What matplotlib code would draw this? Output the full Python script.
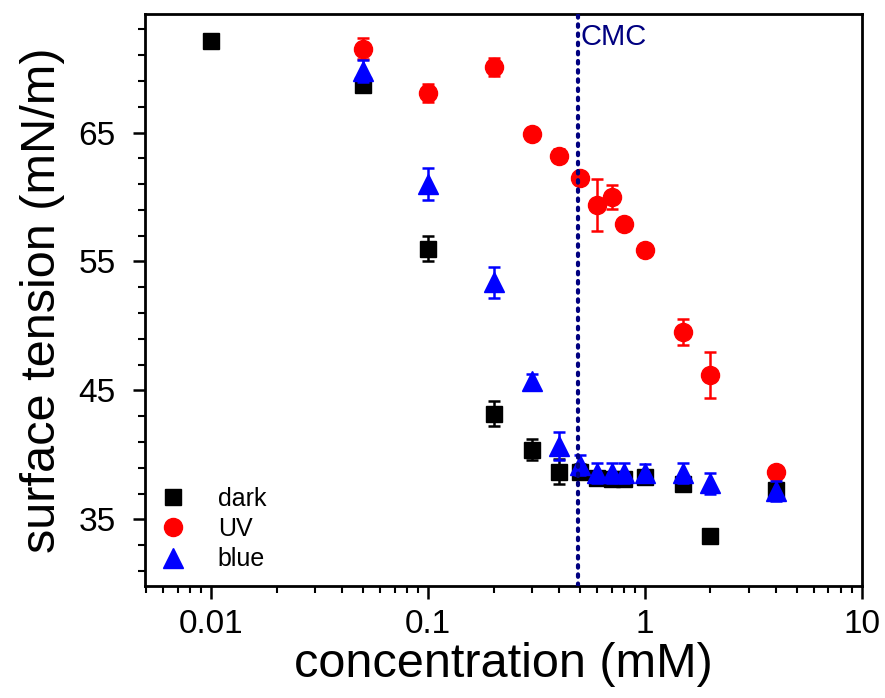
import matplotlib
matplotlib.use("Agg")
import matplotlib.pyplot as plt
import matplotlib.ticker as mticker
from matplotlib import font_manager as fm
import numpy as np

# ---- data ----
conc_dark = [0.01, 0.05, 0.1, 0.2, 0.3, 0.4, 0.5, 0.6, 0.7, 0.8, 1.0, 1.5, 2.0, 4.0]
st_dark = [72.1, 68.7, 56.0, 43.2, 40.4, 38.7, 38.7, 38.2, 38.1, 38.1, 38.3, 37.7, 33.7, 37.3]
err_dark = [0.3, 0.5, 1.0, 1.0, 0.8, 1.0, 0.6, 0.5, 0.5, 0.5, 0.5, 0.4, 0.3, 0.5]

conc_uv = [0.05, 0.1, 0.2, 0.3, 0.4, 0.5, 0.6, 0.7, 0.8, 1.0, 1.5, 2.0, 4.0]
st_uv = [71.5, 68.1, 70.1, 64.9, 63.2, 61.5, 59.4, 60.0, 57.9, 55.9, 49.5, 46.2, 38.7]
err_uv = [0.8, 0.7, 0.7, 0.3, 0.5, 0.4, 2.0, 0.9, 0.3, 0.3, 1.0, 1.8, 0.3]

conc_blue = [0.05, 0.1, 0.2, 0.3, 0.4, 0.5, 0.6, 0.7, 0.8, 1.0, 1.5, 2.0, 4.0]
st_blue = [69.8, 61.0, 53.4, 45.7, 40.7, 39.2, 38.6, 38.6, 38.6, 38.6, 38.6, 37.8, 37.2]
err_blue = [0.85, 1.25, 1.2, 0.6, 1.1, 0.8, 0.8, 0.8, 0.8, 0.7, 0.8, 0.8, 0.8]

cmc = 0.49
y_major = [35, 45, 55, 65]
y_minor = list(range(31, 74, 2))
x_major = [0.01, 0.1, 1, 10]
x_major_labels = ["0.01", "0.1", "1", "10"]

# ---- fonts ----
regular = ["Liberation Sans", "DejaVu Sans"]
names = {f.name for f in fm.fontManager.ttflist}
if "Liberation Sans Narrow" in names:
    narrow = ["Liberation Sans Narrow", "Liberation Sans", "DejaVu Sans"]
    narrow_scale = 1.2
else:
    narrow = regular
    narrow_scale = 1.0
plt.rcParams["font.family"] = regular

# ---- figure ----
fig = plt.figure(figsize=(8.85, 6.98), dpi=100)
ax = fig.add_axes([0.164, 0.160, 0.810, 0.820])

ax.errorbar(conc_dark, st_dark, yerr=err_dark, fmt="s", color="black", ms=12,
            capsize=4.5, elinewidth=1.8, capthick=1.8, label="dark", zorder=3)
ax.errorbar(conc_uv, st_uv, yerr=err_uv, fmt="o", color="#ff0000", ms=13,
            capsize=4.5, elinewidth=1.8, capthick=1.8, label="UV", zorder=4)
ax.errorbar(conc_blue, st_blue, yerr=err_blue, fmt="^", color="#0000ff", ms=14,
            capsize=4.5, elinewidth=1.8, capthick=1.8, label="blue", zorder=5)

ax.axvline(cmc, color="#000080", ls=(0, (0.6, 1.6)), lw=3, dash_capstyle="round", zorder=6)
ax.text(cmc * 1.03, 72.4, "CMC", color="#000080", fontsize=21, family=regular,
        ha="left", va="center")

ax.set_xscale("log")
ax.set_xlim(0.00495, 10)
ax.set_ylim(29.8, 74.2)

ax.xaxis.set_major_locator(mticker.FixedLocator(x_major))
ax.xaxis.set_major_formatter(mticker.FixedFormatter(x_major_labels))
ax.xaxis.set_minor_locator(mticker.LogLocator(base=10, subs=np.arange(2, 10)))
ax.xaxis.set_minor_formatter(mticker.NullFormatter())
ax.yaxis.set_major_locator(mticker.FixedLocator(y_major))
ax.yaxis.set_minor_locator(mticker.FixedLocator(y_minor))

ax.tick_params(which="major", direction="out", length=9, width=1.8)
ax.tick_params(which="minor", direction="out", length=5, width=1.5)
ax.tick_params(axis="y", which="major", pad=12, labelsize=24, labelfontfamily=regular)
ax.tick_params(axis="x", which="major", pad=7, labelsize=24 * narrow_scale,
               labelfontfamily=narrow)

for sp in ax.spines.values():
    sp.set_linewidth(2)

ax.set_xlabel("concentration (mM)", fontsize=35 * (1.0 if narrow_scale == 1.0 else 1.05),
              family=narrow, labelpad=2)
ax.set_ylabel("surface tension (mN/m)", fontsize=35, family=regular, labelpad=10)

handles, labels = ax.get_legend_handles_labels()
handles = [h[0] for h in handles]
leg = ax.legend(handles, labels, loc="lower left", frameon=False,
                prop={"family": regular, "size": 18}, handlelength=1.0,
                handletextpad=1.3, labelspacing=0.25, borderaxespad=0.2,
                markerscale=1.0)

fig.savefig("out.png", dpi=100)
